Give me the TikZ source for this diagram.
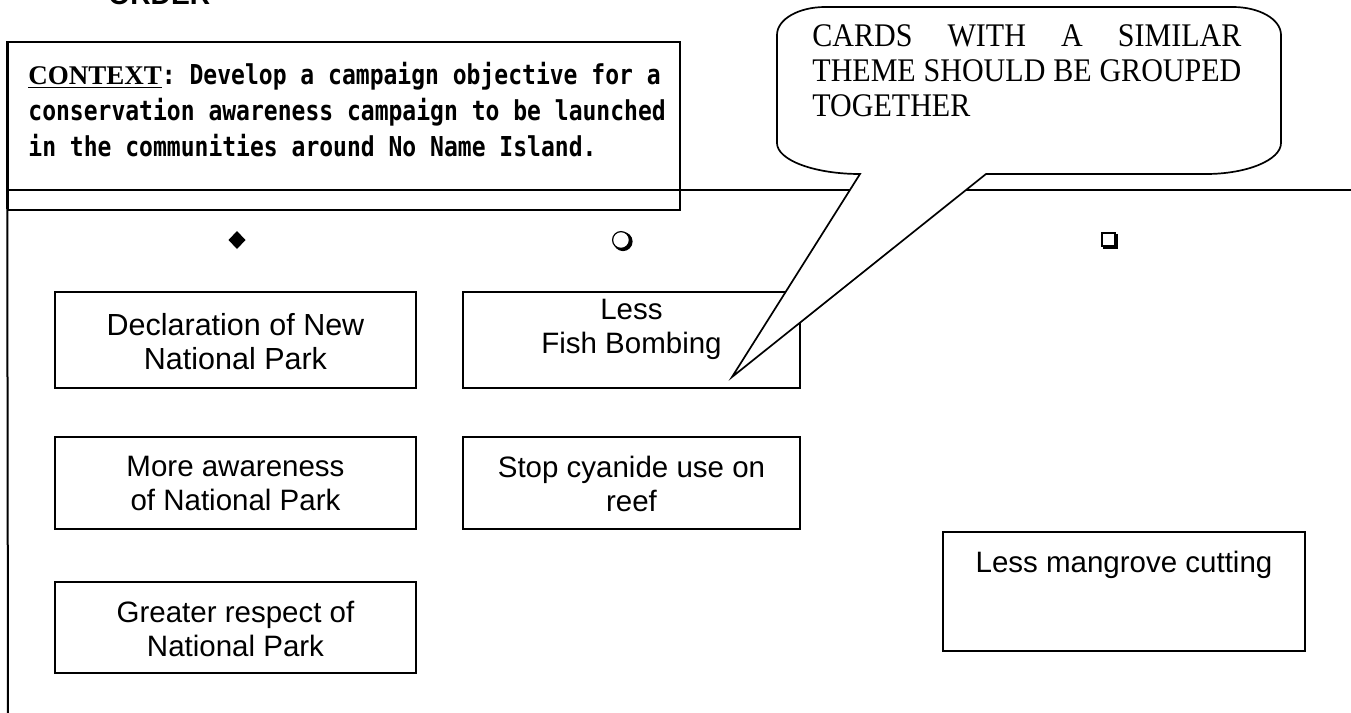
\documentclass[tikz,border=0pt]{standalone}
\usepackage{fontspec}
\setmainfont{Liberation Serif}
\newfontfamily\cardfont{Liberation Sans}
\newfontfamily\ctxfont[FakeStretch=0.84]{DejaVu Sans Mono}
\newfontfamily\callfont[FakeStretch=0.91]{Liberation Serif}
\usetikzlibrary{fit,calc}

% stretchable word space for justified lines
\newcommand\jsp{\hskip\fontdimen2\font plus 1fill\relax}

\tikzset{
  frame/.style={line width=1pt},
  card/.style={draw, rectangle, line width=1pt, inner sep=0pt},
  cardtext/.style={font=\cardfont\fontsize{14.75}{17}\selectfont, align=center, inner sep=0pt, anchor=north},
  ctxline/.style={font=\ctxfont\bfseries\fontsize{13.7}{18}\selectfont, inner sep=0pt, anchor=base west},
  callline/.style={font=\callfont\fontsize{16.5}{18}\selectfont, inner sep=0pt, anchor=base west},
  bubble/.style={draw, fill=white, line width=0.85pt, line join=miter},
}

\begin{document}
\begin{tikzpicture}[x=0.5pt, y=-0.5pt]
  \useasboundingbox (0,0) rectangle (1351,713);
  \clip (0,0) rectangle (1351,713);

  % heading cut at the top edge
  \node[font=\cardfont\bfseries\fontsize{14.1}{16}\selectfont, anchor=base west, inner sep=0pt] (order) at (108,4) {ORDER};

  % context box and the form rules
  \node[draw, frame, rectangle, inner sep=0pt, fit={(8,42) (680,210)}] (ctx) {};
  \coordinate (rule-l) at (8,190);
  \coordinate (rule-r) at (1351,190);
  \coordinate (side-b) at (8,713);
  \draw[frame] (rule-l) -- (rule-r);
  \draw[frame] (ctx.north west) -- (side-b);

  % context text
  \node[ctxline] (ctx1) at (28,84) {\makebox[313.5pt][l]{{\rmfamily\bfseries\fontsize{13.5}{16}\selectfont\underline{CONTEXT}}:\jsp Develop\jsp a\jsp campaign\jsp objective\jsp for\jsp a}};
  \node[ctxline] (ctx2) at (28,120) {\makebox[313.5pt][l]{conservation\jsp awareness\jsp campaign\jsp to\jsp be\jsp launched}};
  \node[ctxline] (ctx3) at (28,156) {in the communities around No Name Island.};

  % column markers
  \fill (237,231) -- (245.5,240) -- (237,249) -- (228.5,240) -- cycle;
  \fill (623,241.5) circle (9.6);
  \draw[fill=white, line width=0.6pt] (621,240) circle (8.4);
  \draw[line width=1pt] (1101.5,232.5) rectangle (1115,246);
  \fill (1103,245) rectangle (1117.5,248.5);
  \fill (1114,234) rectangle (1117.5,248.5);

  % cards
  \node[card, fit={(55,292) (416,388)}] (c1) {};
  \node[card, fit={(463,292) (800,388)}] (c2) {};
  \node[card, fit={(55,437) (416,529)}] (c3) {};
  \node[card, fit={(463,437) (800,529)}] (c4) {};
  \node[card, fit={(55,582) (416,673)}] (c5) {};
  \node[card, fit={(943,532) (1305,651)}] (c6) {};

  \node[cardtext, font=\cardfont\fontsize{15.25}{17}\selectfont] (t1) at ($(c1.north)+(0,22)$) {Declaration of New\\National Park};
  \node[cardtext] (t2) at ($(c2.north)+(0,8)$) {Less\\Fish Bombing};
  \node[cardtext] (t3) at ($(c3.north)+(0,19.5)$) {More awareness\\of National Park};
  \node[cardtext] (t4) at ($(c4.north)+(0,19.5)$) {Stop cyanide use on\\reef};
  \node[cardtext] (t5) at ($(c5.north)+(0,19.5)$) {Greater respect of\\National Park};
  \node[cardtext] (t6) at ($(c6.north)+(0,20)$) {Less mangrove cutting};

  % speech bubble pointing at the fish bombing card
  \coordinate (tip) at (732,377);
  \draw[bubble] (825,7) -- (1233,7)
    .. controls (1259,7) and (1281,19) .. (1281,35)
    -- (1281,143)
    .. controls (1281,160) and (1247,174) .. (1206,174)
    -- (986,174) -- (tip) -- (860,174)
    .. controls (814,174) and (777,160) .. (777,143)
    -- (777,35)
    .. controls (777,19) and (799,7) .. (825,7) -- cycle;

  \node[callline] (b1) at (812,46) {\makebox[214.5pt][l]{CARDS\jsp WITH\jsp A\jsp SIMILAR}};
  \node[callline] (b2) at (812,81) {\makebox[214.5pt][l]{THEME\jsp SHOULD\jsp BE\jsp GROUPED}};
  \node[callline] (b3) at (812,116) {TOGETHER};
\end{tikzpicture}
\end{document}
